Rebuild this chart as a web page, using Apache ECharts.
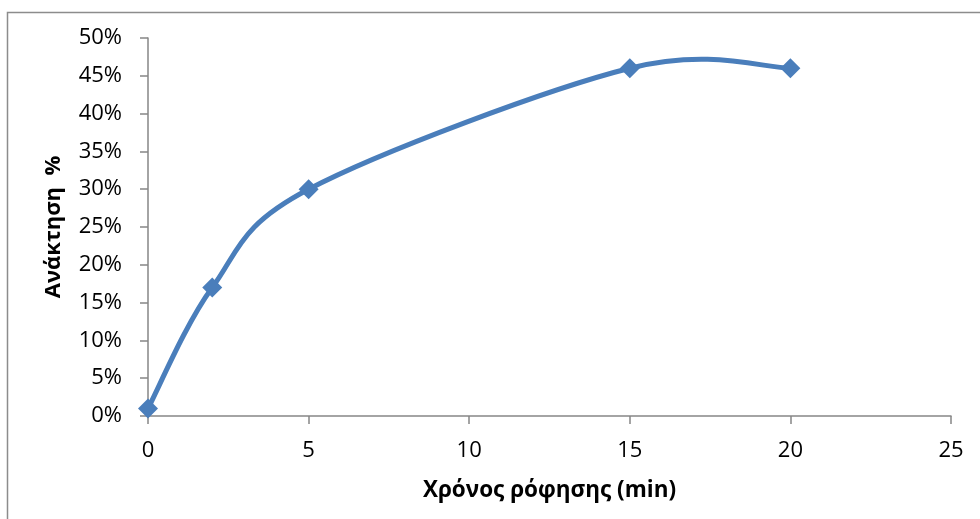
<!DOCTYPE html>
<html>
<head>
<meta charset="utf-8">
<script src="https://cdn.jsdelivr.net/npm/echarts@6/dist/echarts.min.js"></script>
<style>html,body{margin:0;padding:0;background:#fff}#c{width:980px;height:519px}</style>
</head>
<body>
<div id="c"></div>
<script>
var times = [0, 2, 5, 15, 20];
var recovery = [1, 17, 30, 46, 46];
var xTitle = 'Χρόνος ρόφησης (min)';
var yTitle = 'Ανάκτηση  %';

var points = times.map(function (t, i) { return [t, recovery[i]]; });
var blue = '#4a7ebb';
var chart = echarts.init(document.getElementById('c'));
var font = '"Open Sans", "Noto Sans", sans-serif';

// Excel-like smoothed segment (Catmull-Rom style tangents, 1/6 factor)
function renderSeg(params, api) {
  var i = params.dataIndex;
  if (i >= points.length - 1) return null;
  var p = points.map(function (d) { return api.coord(d); });
  var p0 = p[i], p1 = p[i + 1];
  var pm = i > 0 ? p[i - 1] : p0;
  var pn = i + 2 < p.length ? p[i + 2] : p1;
  var c1 = [p0[0] + (p1[0] - pm[0]) / 6, p0[1] + (p1[1] - pm[1]) / 6];
  var c2 = [p1[0] - (pn[0] - p0[0]) / 6, p1[1] - (pn[1] - p0[1]) / 6];
  return {
    type: 'bezierCurve',
    shape: {x1: p0[0], y1: p0[1], x2: p1[0], y2: p1[1], cpx1: c1[0], cpy1: c1[1], cpx2: c2[0], cpy2: c2[1]},
    style: {stroke: blue, lineWidth: 5, fill: null, lineCap: 'round'}
  };
}

chart.setOption({
  animation: false,
  graphic: [{
    type: 'rect', shape: {x: 7.5, y: 12.5, width: 1000, height: 600},
    style: {fill: 'none', stroke: '#8c8c8c', lineWidth: 1.5}, silent: true
  }],
  grid: {left: 148, top: 38, width: 803, height: 378, containLabel: false},
  xAxis: {
    type: 'value', min: 0, max: 25, interval: 5,
    name: xTitle, nameLocation: 'middle', nameGap: 63,
    nameTextStyle: {fontFamily: font, fontSize: 22.5, fontWeight: 'bold', color: '#000'},
    axisLine: {lineStyle: {color: '#868686', width: 1.5}},
    axisTick: {show: true, length: 8, lineStyle: {color: '#868686', width: 1.5}},
    axisLabel: {fontFamily: font, fontSize: 22, color: '#000', margin: 24},
    splitLine: {show: false}
  },
  yAxis: {
    type: 'value', min: 0, max: 50, interval: 5,
    name: yTitle, nameLocation: 'middle', nameGap: 83, nameRotate: 90,
    nameTextStyle: {fontFamily: font, fontSize: 22, fontWeight: 'bold', color: '#000'},
    axisLine: {show: true, lineStyle: {color: '#868686', width: 1.5}},
    axisTick: {show: true, length: 8, lineStyle: {color: '#868686', width: 1.5}},
    axisLabel: {fontFamily: font, fontSize: 22, color: '#000', margin: 26, formatter: '{value}%'},
    splitLine: {show: false}
  },
  series: [{
    type: 'custom',
    data: points,
    renderItem: renderSeg,
    z: 2
  }, {
    type: 'scatter',
    data: points,
    symbol: 'diamond', symbolSize: 20,
    itemStyle: {color: blue, opacity: 1},
    z: 3
  }]
});
</script>
</body>
</html>
